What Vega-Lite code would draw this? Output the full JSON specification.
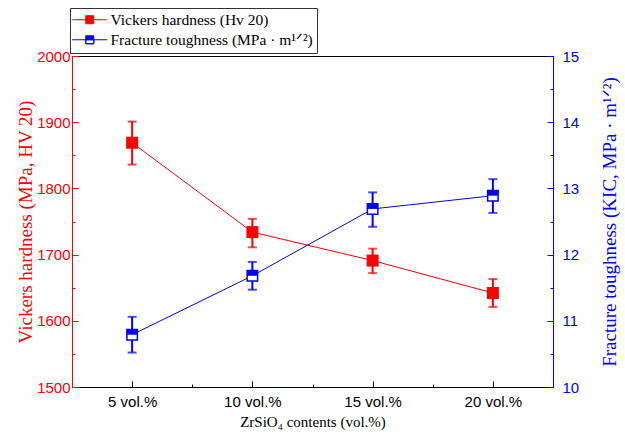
{
  "$schema": "https://vega.github.io/schema/vega-lite/v6.json",
  "width": 481,
  "height": 331,
  "autosize": {"type": "none"},
  "padding": {"left": 72, "top": 56, "right": 72, "bottom": 57},
  "background": "white",
  "config": {"view": {"stroke": "black", "strokeWidth": 1}, "axis": {"grid": false}},
  "data": {
    "values": [
      {"content": 5, "hv": 1869, "hv_lo": 1836, "hv_hi": 1901, "kic": 10.79, "kic_lo": 10.52, "kic_hi": 11.06},
      {"content": 10, "hv": 1734, "hv_lo": 1711, "hv_hi": 1754, "kic": 11.68, "kic_lo": 11.47, "kic_hi": 11.89},
      {"content": 15, "hv": 1691, "hv_lo": 1672, "hv_hi": 1709, "kic": 12.69, "kic_lo": 12.42, "kic_hi": 12.94},
      {"content": 20, "hv": 1642, "hv_lo": 1621, "hv_hi": 1663, "kic": 12.89, "kic_lo": 12.63, "kic_hi": 13.14}
    ]
  },
  "encoding": {
    "x": {
      "field": "content",
      "type": "quantitative",
      "scale": {"domain": [2.5, 22.5], "nice": false, "zero": false},
      "axis": {
        "values": [5, 7.5, 10, 12.5, 15, 17.5, 20],
        "labelExpr": "datum.value % 5 === 0 ? datum.value + ' vol.%' : ''",
        "tickSize": {"condition": {"test": "datum.value % 5 === 0", "value": -6}, "value": -3},
        "tickColor": "black",
        "domainColor": "black",
        "labelFont": "Liberation Sans",
        "labelFontSize": 15,
        "labelColor": "black",
        "labelPadding": 13,
        "labelFlush": false,
        "title": "ZrSiO₄ contents (vol.%)",
        "titleFont": "Liberation Serif",
        "titleFontSize": 15,
        "titleFontWeight": "normal",
        "titleColor": "black",
        "titlePadding": 5
      }
    }
  },
  "layer": [
    {
      "encoding": {
        "y": {
          "field": "hv",
          "type": "quantitative",
          "title": "Vickers hardness (MPa, HV 20)",
          "scale": {"domain": [1500, 2000], "nice": false, "zero": false},
          "axis": {
            "orient": "left",
            "values": [1500, 1550, 1600, 1650, 1700, 1750, 1800, 1850, 1900, 1950, 2000],
            "labelExpr": "datum.value % 100 === 0 ? datum.value : ''",
            "tickSize": {"condition": {"test": "datum.value % 100 === 0", "value": -6}, "value": -3},
            "tickColor": "#ff0000",
            "domainColor": "#ff0000",
            "labelColor": "#ff0000",
            "labelFont": "Liberation Sans",
            "labelFontSize": 15,
            "labelPadding": 8,
            "labelFlush": false,
            "titleColor": "#ff0000",
            "titleFont": "Liberation Serif",
            "titleFontSize": 19,
            "titleFontWeight": "normal",
            "titlePadding": 1
          }
        }
      },
      "layer": [
        {
          "mark": {"type": "line", "strokeWidth": 1},
          "encoding": {
            "color": {
              "datum": "Vickers hardness (Hv 20)",
              "type": "nominal",
              "scale": {"domain": ["Vickers hardness (Hv 20)", "Fracture toughness (MPa · m¹ᐟ²)"], "range": ["#ff0000", "#0000ff"]},
              "legend": {
                "orient": "none",
                "legendX": -2,
                "legendY": -48,
                "title": null,
                "direction": "vertical",
                "strokeColor": "#333333",
                "fillColor": "white",
                "padding": 4,
                "labelFont": "Liberation Serif",
                "labelFontSize": 15.5,
                "labelColor": "black",
                "labelLimit": 400,
                "symbolSize": 25,
                "symbolOffset": 8,
                "labelOffset": 13,
                "rowPadding": 3,
                "encode": {
                  "symbols": {
                    "update": {
                      "shape": {"signal": "datum.value === 'Vickers hardness (Hv 20)' ? 'M-7,0H7M-1.6,-1.6H1.6V1.6H-1.6Z' : 'M-7,0H7M-1.6,-1.6H1.6V0H-1.6ZM-1.6,0V1.6H1.6V0V1.6H-1.6Z'"},
                      "fill": {"signal": "datum.value === 'Vickers hardness (Hv 20)' ? '#ff0000' : '#0000ff'"},
                      "stroke": {"signal": "datum.value === 'Vickers hardness (Hv 20)' ? '#ff0000' : '#0000ff'"},
                      "strokeWidth": {"value": 1},
                      "size": {"value": 25},
                      "opacity": {"value": 1}
                    }
                  }
                }
              }
            }
          }
        },
        {
          "mark": {"type": "rule", "color": "#ff0000", "strokeWidth": 2},
          "encoding": {
            "y": {"field": "hv_lo", "type": "quantitative", "title": "Vickers hardness (MPa, HV 20)"},
            "y2": {"field": "hv_hi"}
          }
        },
        {
          "mark": {"type": "tick", "orient": "horizontal", "color": "#ff0000", "thickness": 2, "size": 9},
          "encoding": {"y": {"field": "hv_lo", "type": "quantitative", "title": "Vickers hardness (MPa, HV 20)"}}
        },
        {
          "mark": {"type": "tick", "orient": "horizontal", "color": "#ff0000", "thickness": 2, "size": 9},
          "encoding": {"y": {"field": "hv_hi", "type": "quantitative", "title": "Vickers hardness (MPa, HV 20)"}}
        },
        {
          "mark": {"type": "point", "shape": "square", "filled": true, "size": 144, "color": "#ff0000", "opacity": 1}
        }
      ]
    },
    {
      "encoding": {
        "y": {
          "field": "kic",
          "type": "quantitative",
          "title": "Fracture toughness (KIC, MPa · m¹ᐟ²)",
          "scale": {"domain": [10, 15], "nice": false, "zero": false},
          "axis": {
            "orient": "right",
            "values": [10, 10.5, 11, 11.5, 12, 12.5, 13, 13.5, 14, 14.5, 15],
            "labelExpr": "datum.value % 1 === 0 ? datum.value : ''",
            "tickSize": {"condition": {"test": "datum.value % 1 === 0", "value": -6}, "value": -3},
            "tickColor": "#0000ff",
            "domainColor": "#0000ff",
            "labelColor": "#0000ff",
            "labelFont": "Liberation Sans",
            "labelFontSize": 15,
            "labelPadding": 15,
            "labelFlush": false,
            "titleColor": "#0000ff",
            "titleFont": "Liberation Serif",
            "titleFontSize": 19,
            "titleFontWeight": "normal",
            "titleAngle": 270,
            "titleBaseline": "top",
            "titlePadding": 22
          }
        }
      },
      "layer": [
        {
          "mark": {"type": "line", "strokeWidth": 1},
          "encoding": {"color": {"datum": "Fracture toughness (MPa · m¹ᐟ²)", "type": "nominal"}}
        },
        {
          "mark": {"type": "rule", "color": "#0000ff", "strokeWidth": 2},
          "encoding": {
            "y": {"field": "kic_lo", "type": "quantitative", "title": "Fracture toughness (KIC, MPa · m¹ᐟ²)"},
            "y2": {"field": "kic_hi"}
          }
        },
        {
          "mark": {"type": "tick", "orient": "horizontal", "color": "#0000ff", "thickness": 2, "size": 9},
          "encoding": {"y": {"field": "kic_lo", "type": "quantitative", "title": "Fracture toughness (KIC, MPa · m¹ᐟ²)"}}
        },
        {
          "mark": {"type": "tick", "orient": "horizontal", "color": "#0000ff", "thickness": 2, "size": 9},
          "encoding": {"y": {"field": "kic_hi", "type": "quantitative", "title": "Fracture toughness (KIC, MPa · m¹ᐟ²)"}}
        },
        {
          "mark": {"type": "point", "shape": "square", "filled": true, "fill": "white", "stroke": "#0000ff", "strokeWidth": 1.5, "size": 110, "opacity": 1}
        },
        {
          "mark": {"type": "point", "shape": "M-1,-1H1V0H-1Z", "filled": true, "color": "#0000ff", "size": 110, "opacity": 1}
        }
      ]
    }
  ],
  "resolve": {"scale": {"y": "independent"}}
}
